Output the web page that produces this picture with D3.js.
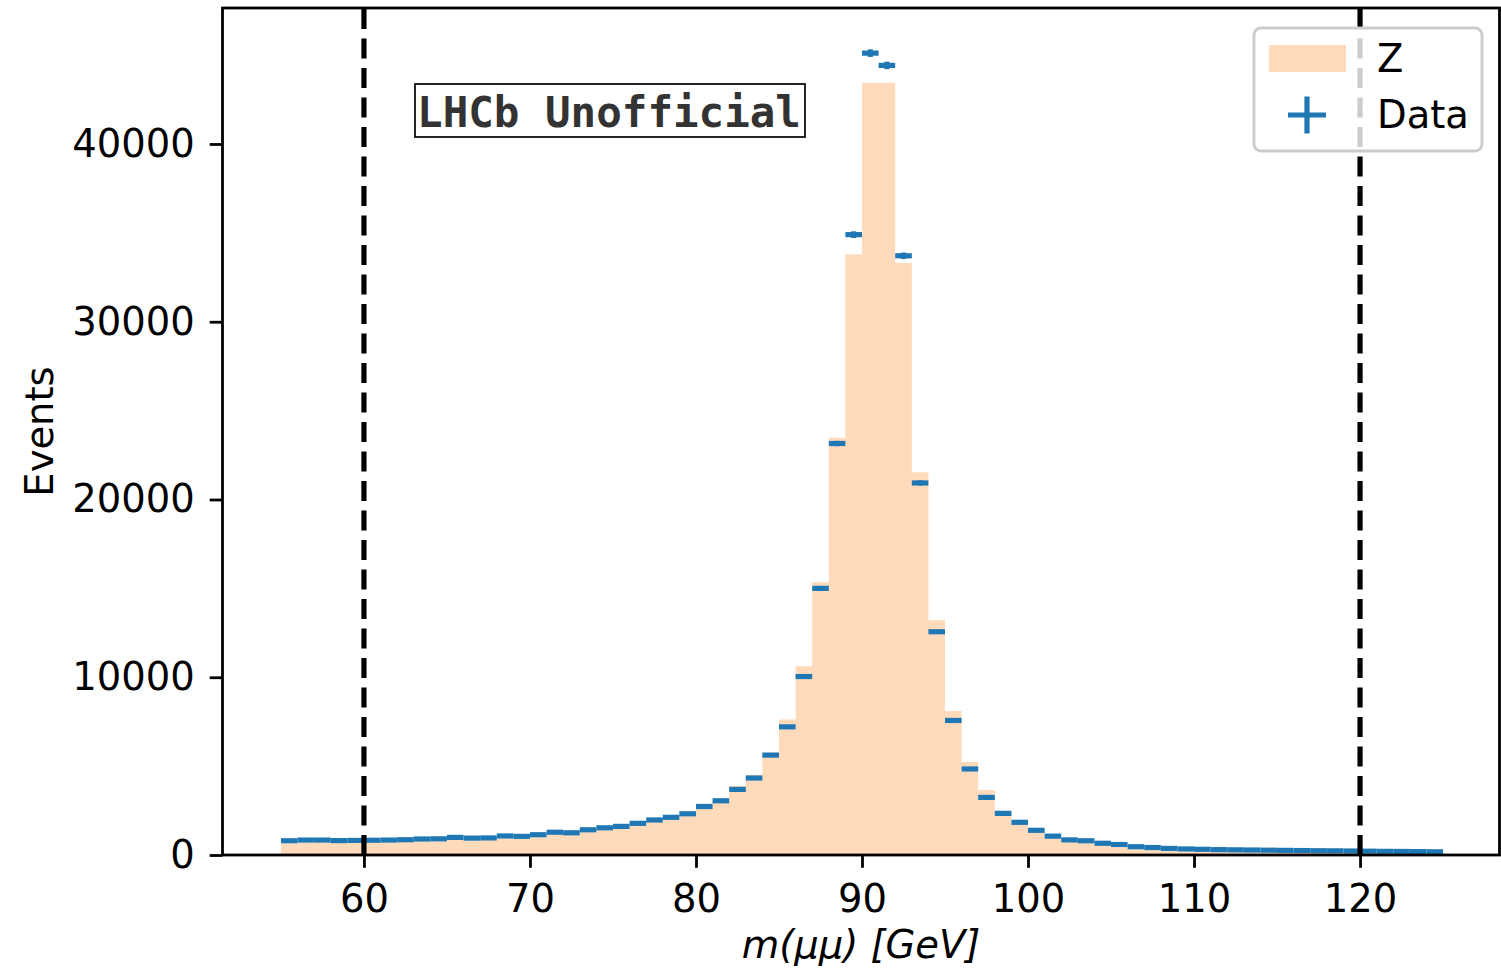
<!DOCTYPE html>
<html>
<head>
<meta charset="utf-8">
<script src="https://cdn.jsdelivr.net/npm/d3@7"></script>
<style>
  body { margin: 0; background: #fff; }
  text { font-family: "DejaVu Sans", sans-serif; }
</style>
</head>
<body>
<div id="chart"></div>
<script>
// histogram bins: 1 GeV wide, 55 -> 125
const binLow = d3.range(55, 125);
const binWidth = 1;

// observed counts per bin (blue points)
const dataCounts = [
  800, 840, 840, 810, 820, 830, 840, 860, 900, 910,
  990, 950, 960, 1070, 1050, 1140, 1280, 1250, 1420, 1530,
  1610, 1780, 1970, 2120, 2320, 2730, 3050, 3690, 4330, 5620,
  7210, 10040, 15000, 23150, 34900, 45110, 44420, 33710, 20930, 12560,
  7570, 4840, 3240, 2340, 1840, 1390, 1060, 850, 800, 660,
  590, 465, 420, 370, 340, 320, 300, 290, 280, 270,
  260, 250, 240, 235, 225, 215, 205, 200, 190, 180
];

// Z simulation per bin (filled histogram)
const zCounts = [
  650, 690, 700, 680, 690, 700, 710, 730, 770, 780,
  850, 820, 830, 930, 920, 1000, 1140, 1120, 1290, 1410,
  1500, 1690, 1900, 2060, 2300, 2740, 3100, 3880, 4520, 5750,
  7620, 10620, 15340, 23480, 33780, 43440, 43440, 33300, 21530, 13200,
  8100, 5240, 3650, 2500, 1850, 1320, 960, 740, 660, 520,
  440, 330, 280, 240, 200, 170, 160, 150, 140, 135,
  130, 120, 115, 110, 105, 100, 95, 90, 85, 80
];

const xTicks = [60, 70, 80, 90, 100, 110, 120];
const yTicks = [0, 10000, 20000, 30000, 40000];
const cutLines = [60, 120];
const legendItems = ["Z", "Data"];

const zColor = "#ffdabb";
const dataColor = "#1f77b4";
const fontSize = "38.5px";

// set the dimensions and margins of the graph
const W = 1501, H = 970;
const margin = { top: 8, right: 1.5, bottom: 115, left: 222.5 },
    width = W - margin.left - margin.right,
    height = H - margin.top - margin.bottom;

const svg = d3.select("#chart")
    .append("svg")
    .attr("width", W)
    .attr("height", H)
    .append("g")
    .attr("transform", `translate(${margin.left},${margin.top})`);

const x = d3.scaleLinear().domain([51.48, 128.4]).range([0, width]);
const y = d3.scaleLinear().domain([0, 47650]).range([height, 0]);

// Z stepfilled histogram
const zPoints = binLow.map((b, i) => [b, zCounts[i]]);
zPoints.push([binLow[binLow.length - 1] + binWidth, zCounts[zCounts.length - 1]]);
svg.append("path")
    .datum(zPoints)
    .attr("fill", zColor)
    .attr("d", d3.area()
        .x(d => x(d[0]))
        .y0(y(0))
        .y1(d => y(d[1]))
        .curve(d3.curveStepAfter));

// data points with x and y error bars
const pts = svg.append("g").selectAll("g")
    .data(binLow.map((b, i) => ({ lo: b, hi: b + binWidth, n: dataCounts[i] })))
    .join("g");
pts.append("line")
    .attr("x1", d => x(d.lo)).attr("x2", d => x(d.hi))
    .attr("y1", d => y(d.n)).attr("y2", d => y(d.n))
    .attr("stroke", dataColor).attr("stroke-width", 5.2);
pts.append("line")
    .attr("x1", d => x((d.lo + d.hi) / 2)).attr("x2", d => x((d.lo + d.hi) / 2))
    .attr("y1", d => y(d.n - Math.sqrt(d.n))).attr("y2", d => y(d.n + Math.sqrt(d.n)))
    .attr("stroke", dataColor).attr("stroke-width", 5.2);

// dashed mass window lines (drawn bottom -> top)
svg.selectAll(".cut")
    .data(cutLines)
    .join("line")
    .attr("class", "cut")
    .attr("x1", d => x(d)).attr("x2", d => x(d))
    .attr("y1", height).attr("y2", 0)
    .attr("stroke", "black")
    .attr("stroke-width", 5.2)
    .attr("stroke-dasharray", "20,9.5");

// axes
const xAxis = svg.append("g")
    .attr("transform", `translate(0,${height})`)
    .call(d3.axisBottom(x).tickValues(xTicks).tickSize(12.8).tickPadding(17));
const yAxis = svg.append("g")
    .call(d3.axisLeft(y).tickValues(yTicks).tickSize(12.8).tickPadding(15).tickFormat(d3.format("d")));
[xAxis, yAxis].forEach(a => {
    a.select(".domain").remove();
    a.selectAll(".tick line").attr("stroke", "black").attr("stroke-width", 2.8);
    a.selectAll(".tick text")
        .attr("fill", "black")
        .style("font-family", "DejaVu Sans")
        .style("font-size", fontSize);
});

// frame
svg.append("rect")
    .attr("width", width).attr("height", height)
    .attr("fill", "none")
    .attr("stroke", "black")
    .attr("stroke-width", 2.8);

// axis labels
svg.append("text")
    .attr("x", width / 2)
    .attr("y", 950)
    .attr("text-anchor", "middle")
    .style("font-size", fontSize)
    .style("font-style", "italic")
    .text("m(μμ) [GeV]");

svg.append("text")
    .attr("transform", `translate(${53 - margin.left},${height / 2}) rotate(-90)`)
    .attr("text-anchor", "middle")
    .style("font-size", fontSize)
    .text("Events");

// LHCb Unofficial box
svg.append("rect")
    .attr("x", 415 - margin.left).attr("y", 84 - margin.top)
    .attr("width", 390).attr("height", 53)
    .attr("fill", "white")
    .attr("stroke", "black")
    .attr("stroke-width", 1.7);
svg.append("text")
    .attr("x", 609 - margin.left)
    .attr("y", 127 - margin.top)
    .attr("text-anchor", "middle")
    .attr("fill", "#333")
    .style("font-family", "DejaVu Sans Mono")
    .style("font-weight", "bold")
    .style("font-size", "42.5px")
    .text("LHCb Unofficial");

// legend
const legend = svg.append("g")
    .attr("transform", `translate(${1254 - margin.left},${28 - margin.top})`);
legend.append("rect")
    .attr("width", 228).attr("height", 123)
    .attr("rx", 7).attr("ry", 7)
    .attr("fill", "white").attr("fill-opacity", 0.8)
    .attr("stroke", "#cccccc").attr("stroke-width", 2.8);

const items = legend.selectAll("g.item")
    .data(legendItems)
    .join("g")
    .attr("class", "item")
    .attr("transform", (d, i) => `translate(0,${i * 56})`);

items.filter(d => d === "Z").append("rect")
    .attr("x", 15).attr("y", 17)
    .attr("width", 77).attr("height", 27)
    .attr("fill", zColor);
const plus = items.filter(d => d === "Data");
plus.append("line")
    .attr("x1", 34).attr("x2", 72).attr("y1", 31).attr("y2", 31)
    .attr("stroke", dataColor).attr("stroke-width", 5.2);
plus.append("line")
    .attr("x1", 53).attr("x2", 53).attr("y1", 12.5).attr("y2", 49.5)
    .attr("stroke", dataColor).attr("stroke-width", 5.2);

items.append("text")
    .attr("x", 123)
    .attr("y", 44)
    .style("font-size", fontSize)
    .text(d => d);
</script>
</body>
</html>
